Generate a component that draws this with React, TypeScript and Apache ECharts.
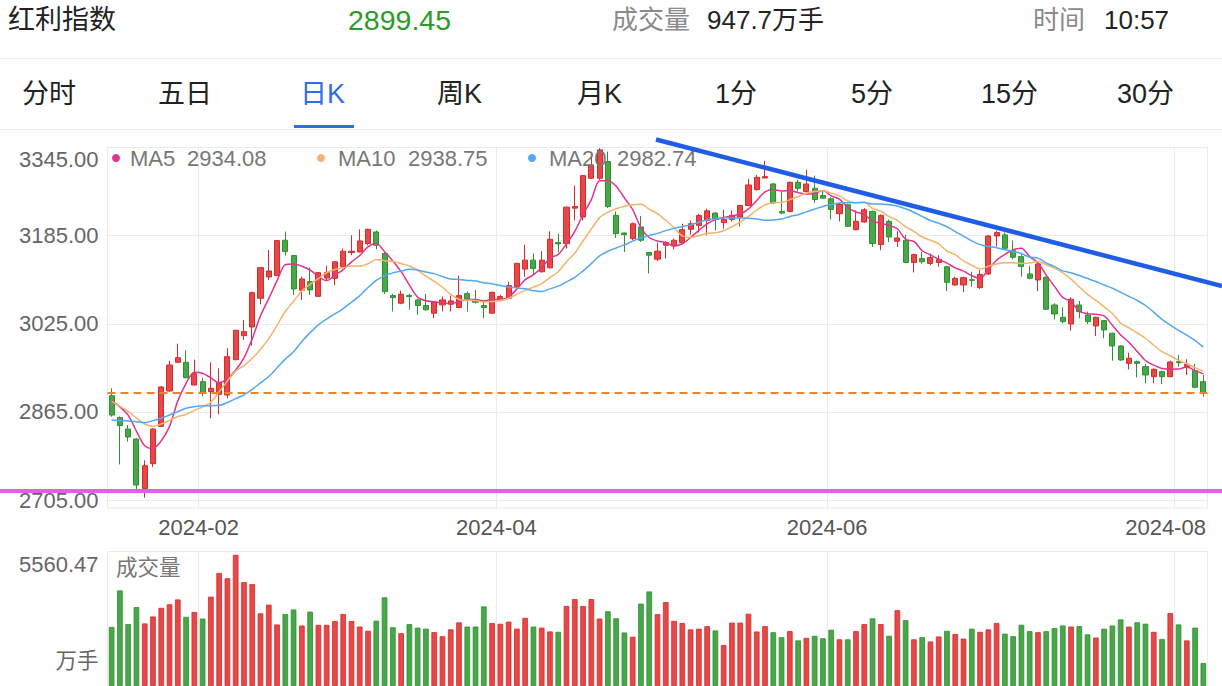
import React, { useEffect, useRef } from 'react';
import * as echarts from 'echarts';

const FONT = '"Liberation Sans", "Noto Sans CJK SC", sans-serif';

// ---------- data ----------
const monthDays: [string, number[]][] = [
  ['2024-01', [17, 18, 19, 22, 23, 24, 25, 26, 29, 30, 31]],
  ['2024-02', [1, 2, 5, 6, 7, 8, 19, 20, 21, 22, 23, 26, 27, 28, 29]],
  ['2024-03', [1, 4, 5, 6, 7, 8, 11, 12, 13, 14, 15, 18, 19, 20, 21, 22, 25, 26, 27, 28, 29]],
  ['2024-04', [1, 2, 3, 8, 9, 10, 11, 12, 15, 16, 17, 18, 19, 22, 23, 24, 25, 26, 29, 30]],
  ['2024-05', [6, 7, 8, 9, 10, 13, 14, 15, 16, 17, 20, 21, 22, 23, 24, 27, 28, 29, 30, 31]],
  ['2024-06', [3, 4, 5, 6, 7, 11, 12, 13, 14, 17, 18, 19, 20, 21, 24, 25, 26, 27, 28]],
  ['2024-07', [1, 2, 3, 4, 5, 8, 9, 10, 11, 12, 15, 16, 17, 18, 19, 22, 23, 24, 25, 26, 29, 30, 31]],
  ['2024-08', [1, 2, 5, 6]],
];
const dates: string[] = monthDays.flatMap(([m, ds]) => ds.map((d) => `${m}-${String(d).padStart(2, '0')}`));

const opens = [
  2894.4, 2854.5, 2833.9, 2815.7, 2726.1, 2770.9, 2838.7, 2902.9, 2955.0, 2955.0,
  2913.8, 2919.9, 2901.7, 2896.9, 2895.7, 2959.8, 3003.4, 3019.2, 3071.2, 3110.0,
  3112.4, 3176.6, 3148.7, 3085.8, 3101.5, 3074.8, 3108.0, 3107.4, 3128.5, 3154.3,
  3155.5, 3170.6, 3191.6, 3152.5, 3076.1, 3062.3, 3076.1, 3068.3, 3058.1, 3044.2,
  3059.3, 3060.5, 3054.5, 3079.7, 3066.5, 3058.1, 3044.2, 3068.3, 3071.3, 3092.4,
  3124.2, 3140.5, 3119.4, 3126.6, 3172.4, 3170.6, 3234.9, 3218.7, 3289.1, 3289.2,
  3319.4, 3221.7, 3189.8, 3179.6, 3200.6, 3154.3, 3142.3, 3167.6, 3166.3, 3172.4,
  3196.4, 3203.6, 3212.7, 3225.9, 3208.5, 3214.5, 3218.7, 3239.7, 3268.6, 3289.7,
  3278.8, 3229.0, 3228.9, 3281.8, 3265.0, 3271.0, 3257.8, 3251.8, 3224.7, 3240.9,
  3195.8, 3209.7, 3228.9, 3168.8, 3210.9, 3174.8, 3176.6, 3136.3, 3143.5, 3134.5,
  3136.3, 3128.5, 3095.4, 3095.4, 3105.0, 3090.6, 3115.4, 3184.4, 3186.3, 3157.8,
  3146.9, 3115.4, 3104.5, 3109.4, 3059.1, 3036.7, 3024.6, 3059.1, 3041.0, 3021.0,
  3030.7, 3007.7, 2984.7, 2953.2, 2956.2, 2947.1, 2929.0, 2938.1, 2929.0, 2956.2,
  2947.1, 2939.9, 2919.9,
];
const closes = [
  2859.3, 2840.0, 2819.4, 2732.2, 2767.3, 2833.9, 2910.2, 2950.1, 2963.5, 2927.1,
  2934.4, 2900.5, 2907.8, 2918.7, 2965.3, 3013.1, 3010.7, 3081.5, 3126.9, 3120.9,
  3176.0, 3156.0, 3088.2, 3106.3, 3086.4, 3117.8, 3118.0, 3137.5, 3156.7, 3156.7,
  3175.4, 3196.4, 3167.6, 3083.3, 3072.5, 3078.5, 3074.3, 3058.1, 3050.3, 3064.1,
  3068.3, 3066.5, 3076.1, 3070.1, 3064.1, 3054.5, 3082.1, 3074.3, 3094.2, 3134.5,
  3140.5, 3125.4, 3140.5, 3178.4, 3170.0, 3236.7, 3237.9, 3293.9, 3313.1, 3340.6,
  3237.7, 3188.6, 3186.8, 3206.6, 3176.6, 3149.5, 3156.7, 3172.4, 3176.6, 3195.8,
  3206.6, 3221.7, 3230.1, 3215.7, 3214.5, 3221.7, 3239.7, 3277.0, 3290.9, 3292.1,
  3244.5, 3226.0, 3281.8, 3271.0, 3278.8, 3250.6, 3253.0, 3232.5, 3241.5, 3201.8,
  3210.9, 3231.9, 3170.6, 3221.7, 3182.6, 3180.8, 3136.3, 3150.7, 3137.5, 3145.3,
  3141.7, 3100.2, 3107.4, 3108.6, 3103.8, 3114.6, 3184.4, 3190.5, 3162.1, 3145.7,
  3128.7, 3107.6, 3133.6, 3051.3, 3042.8, 3028.9, 3069.4, 3047.0, 3028.9, 3036.7,
  3013.7, 2984.7, 2959.2, 2962.3, 2953.2, 2932.0, 2942.3, 2929.0, 2955.6, 2954.4,
  2951.4, 2909.6, 2899.45,
];
const lows = [
  2856.3, 2769.7, 2810.9, 2723.1, 2709.2, 2764.9, 2837.5, 2901.7, 2954.4, 2925.9,
  2912.6, 2893.2, 2853.3, 2860.5, 2889.6, 2958.6, 2995.5, 2985.2, 3060.3, 3104.5,
  3111.8, 3148.7, 3077.3, 3068.2, 3077.3, 3074.2, 3104.0, 3095.4, 3127.3, 3149.5,
  3154.3, 3167.6, 3160.3, 3079.1, 3047.3, 3060.5, 3050.3, 3041.2, 3049.1, 3035.2,
  3047.3, 3047.3, 3053.3, 3047.3, 3061.7, 3035.2, 3043.0, 3065.3, 3070.1, 3091.2,
  3110.4, 3114.6, 3118.2, 3125.4, 3155.5, 3161.5, 3212.7, 3212.7, 3287.9, 3286.2,
  3235.3, 3180.8, 3155.5, 3176.6, 3173.6, 3116.4, 3138.7, 3143.5, 3160.3, 3171.2,
  3186.8, 3190.4, 3185.6, 3194.6, 3197.6, 3210.9, 3201.8, 3238.5, 3266.8, 3289.1,
  3242.7, 3224.0, 3227.7, 3265.0, 3263.8, 3244.5, 3251.8, 3214.5, 3210.9, 3200.6,
  3194.6, 3208.5, 3164.5, 3158.5, 3173.6, 3164.5, 3135.1, 3118.2, 3133.9, 3131.5,
  3128.5, 3084.5, 3094.2, 3082.1, 3092.4, 3088.2, 3113.6, 3165.1, 3160.2, 3142.1,
  3110.6, 3105.7, 3084.5, 3050.0, 3033.1, 3025.8, 3012.5, 3034.9, 3024.6, 3002.8,
  2998.6, 2958.0, 2958.0, 2942.3, 2927.8, 2916.9, 2916.9, 2915.6, 2927.8, 2947.1,
  2932.0, 2907.8, 2892.6,
];
const highs = [
  2907.8, 2857.0, 2841.2, 2817.0, 2777.0, 2835.0, 2911.4, 2957.4, 2988.9, 2976.8,
  2959.8, 2927.1, 2955.0, 2944.1, 2980.4, 3013.7, 3031.9, 3083.3, 3128.1, 3159.0,
  3177.2, 3192.3, 3149.9, 3110.6, 3126.9, 3119.0, 3130.5, 3138.7, 3161.5, 3185.6,
  3196.4, 3197.6, 3194.6, 3154.3, 3079.1, 3085.1, 3079.1, 3070.1, 3079.1, 3065.3,
  3074.3, 3076.1, 3112.2, 3083.3, 3086.3, 3068.3, 3083.3, 3077.3, 3101.4, 3135.7,
  3168.8, 3152.5, 3156.7, 3192.8, 3188.6, 3237.9, 3275.8, 3295.1, 3330.0, 3343.7,
  3337.5, 3228.9, 3190.4, 3208.5, 3220.5, 3155.5, 3172.4, 3174.8, 3179.6, 3206.6,
  3212.7, 3224.7, 3233.7, 3227.7, 3231.9, 3230.7, 3240.9, 3287.9, 3295.1, 3320.9,
  3280.6, 3265.0, 3283.0, 3286.6, 3304.7, 3293.9, 3266.8, 3254.8, 3244.5, 3242.7,
  3230.7, 3234.9, 3230.7, 3223.5, 3214.5, 3192.8, 3186.8, 3152.5, 3155.5, 3152.5,
  3149.5, 3130.3, 3110.4, 3110.4, 3119.4, 3122.4, 3186.3, 3194.1, 3190.5, 3176.0,
  3154.2, 3130.0, 3136.0, 3110.6, 3062.2, 3054.9, 3073.0, 3066.4, 3047.0, 3037.9,
  3031.9, 3008.9, 2985.9, 2972.6, 2958.0, 2952.0, 2944.1, 2939.9, 2958.0, 2968.3,
  2960.5, 2952.0, 2932.0,
];
const volumes = [
  2442, 3951, 2557, 3261, 2586, 2873, 3233, 3376, 3578, 2859,
  3060, 2787, 3693, 4670, 4454, 5418, 4296, 4210, 3003, 3362,
  2543, 2974, 3161, 2499, 3074, 2528, 2528, 2686, 2974, 2686,
  2456, 2284, 2701, 3664, 2428, 2183, 2557, 2413, 2370, 2226,
  2054, 2341, 2629, 2456, 2456, 3290, 2600, 2571, 2658, 2370,
  2816, 2456, 2413, 2255, 2241, 3304, 3592, 3304, 3592, 2787,
  3089, 2801, 2212, 2039, 3405, 3908, 2970, 3470, 2692, 2604,
  2340, 2369, 2472, 2296, 1694, 2619, 2619, 2986, 2252, 2472,
  2222, 2017, 2266, 1884, 1987, 2075, 1973, 2325, 1928, 1928,
  2266, 2560, 2795, 2560, 2075, 3133, 2722, 1928, 2017, 1840,
  2046, 2281, 2149, 1958, 2369, 2237, 2340, 2604, 2163, 2061,
  2531, 2266, 2222, 2266, 2398, 2501, 2457, 2472, 2134, 2002,
  2369, 2501, 2751, 2457, 2633, 2575, 2237, 1943, 3015, 2545,
  1884, 2413, 947.7,
];
// moving-average values before a full window of visible closes exists
const ma5Head = [2886, 2874, 2859, 2830];
const ma10Head = [2884, 2875, 2866, 2854, 2843, 2839, 2843, 2849.5, 2856.5];
const ma20Head = [
  2850.3, 2849.1, 2848.4, 2847.2, 2845.4, 2849.1, 2853.3, 2859.4, 2865.4, 2871.5,
  2874.5, 2876.3, 2876.3, 2876.9, 2882, 2889, 2896, 2906, 2917.6,
];
const priceTicks = [2705, 2865, 3025, 3185, 3345];
const volumeTicks = [0, 5560.47];
const lastPrice = 2899.45;
const maNames = ['MA5', 'MA10', 'MA20'];
const maLegendValues = ['2934.08', '2938.75', '2982.74'];
const headerTexts = ['红利指数', '2899.45', '成交量', '947.7万手', '时间', '10:57'];
const tabs = ['分时', '五日', '日K', '周K', '月K', '1分', '5分', '15分', '30分'];

// ---------- styling ----------
const UP = '#e54848';
const UP_B = '#d92a2a';
const DOWN = '#4aa64a';
const DOWN_B = '#2c922c';
const MA_COLORS = ['#e2348c', '#f3b46c', '#52a8f3'];
const GRID_LINE = '#ebebeb';

const sma = (n: number, head: number[]) =>
  closes.map((_, i) =>
    i < n - 1 ? head[i] : +(closes.slice(i - n + 1, i + 1).reduce((a, b) => a + b, 0) / n).toFixed(2)
  );

const isMark = (idx: number) => {
  if (idx === 0) return false;
  const m = dates[idx].slice(0, 7);
  const pm = dates[idx - 1].slice(0, 7);
  return m !== pm && parseInt(m.slice(5), 10) % 2 === 0;
};
const lastMarkIdx = dates.reduce((acc, _, i) => (isMark(i) ? i : acc), -1);

function buildOption() {
  const candleData = opens.map((o, i) => [o, closes[i], lows[i], highs[i]]);
  const volData = volumes.map((v, i) => {
    const up = closes[i] >= opens[i];
    return {
      value: v,
      itemStyle: { color: up ? UP : DOWN, borderColor: up ? UP_B : DOWN_B, borderWidth: 0.8 },
    };
  });
  const mas = [sma(5, ma5Head), sma(10, ma10Head), sma(20, ma20Head)];

  const txt = (text: string, x: number, y: number, fill: string, size: number, extra: any = {}) => ({
    type: 'text',
    x,
    y,
    z: 50,
    silent: true,
    style: { text, fill, fontSize: size, fontFamily: FONT, verticalAlign: 'middle', align: 'left', ...extra },
  });

  const headerX = [8, 348, 612, 707, 1033, 1104];
  const headerColors = ['#222', '#2e9a2a', '#8a8a8a', '#222', '#8a8a8a', '#222'];
  const headerSizes = [27, 28.5, 26, 26, 26, 26];
  const tabX = [22, 158, 300, 437, 577, 715, 851, 981, 1117];
  const legendDotX = [116, 321, 532];
  const legendNameX = [130, 338, 549];
  const legendValX = [187, 408, 617];

  const graphic: any[] = [
    ...headerTexts.map((t, i) => txt(t, headerX[i], 20, headerColors[i], headerSizes[i])),
    { type: 'line', silent: true, shape: { x1: 0, y1: 58.5, x2: 1222, y2: 58.5 }, style: { stroke: '#ececec', lineWidth: 1 } },
    ...tabs.map((t, i) => txt(t, tabX[i], 94, i === 2 ? '#2f6cec' : '#222', 27)),
    { type: 'rect', silent: true, shape: { x: 294, y: 125, width: 60, height: 3 }, style: { fill: '#2f6cec' } },
    { type: 'line', silent: true, shape: { x1: 0, y1: 129.5, x2: 1222, y2: 129.5 }, style: { stroke: '#ececec', lineWidth: 1 } },
    ...maNames.flatMap((n, i) => [
      { type: 'circle', silent: true, z: 50, shape: { cx: legendDotX[i], cy: 158, r: 4 }, style: { fill: MA_COLORS[i] } },
      txt(n, legendNameX[i], 158, '#777', 22),
      txt(maLegendValues[i], legendValX[i], 158, '#777', 22),
    ]),
    txt('成交量', 116, 568, '#777', 21.5),
    // user-drawn annotation lines
    { type: 'line', silent: true, z: 60, shape: { x1: 0, y1: 491, x2: 1222, y2: 491 }, style: { stroke: '#e65cf2', lineWidth: 4 } },
    { type: 'line', silent: true, z: 60, shape: { x1: 656, y1: 139.5, x2: 1222, y2: 286 }, style: { stroke: '#1f5de8', lineWidth: 4.5 } },
  ];

  const labelBase = { fontSize: 22, fontFamily: FONT, color: '#666' };

  return {
    animation: false,
    backgroundColor: '#ffffff',
    grid: [
      { left: 107.5, top: 147.5, width: 1100, height: 360.5, show: true, borderColor: GRID_LINE, borderWidth: 1 },
      { left: 107.5, top: 551.5, width: 1100, height: 138, show: true, borderColor: GRID_LINE, borderWidth: 1 },
    ],
    xAxis: [
      {
        type: 'category',
        gridIndex: 0,
        data: dates,
        boundaryGap: true,
        axisLine: { show: false },
        axisTick: { show: false },
        splitLine: { show: true, interval: (i: number) => isMark(i), lineStyle: { color: GRID_LINE, width: 1 } },
        axisLabel: {
          interval: (i: number) => isMark(i),
          margin: 8,
          formatter: (v: string, i: number) =>
            i === lastMarkIdx ? `{r|${v.slice(0, 7)}}` : `{n|${v.slice(0, 7)}}`,
          rich: {
            n: { ...labelBase, color: '#555', padding: [0, 8, 0, 0] },
            r: { ...labelBase, color: '#555', padding: [0, 26, 0, 0] },
          },
        },
      },
      {
        type: 'category',
        gridIndex: 1,
        data: dates,
        boundaryGap: true,
        axisLine: { show: false },
        axisTick: { show: false },
        axisLabel: { show: false },
        splitLine: { show: true, interval: (i: number) => isMark(i), lineStyle: { color: GRID_LINE, width: 1 } },
      },
    ],
    yAxis: [
      {
        type: 'value',
        gridIndex: 0,
        min: 2690.5,
        max: 3345,
        axisLine: { show: false },
        axisTick: { show: false, customValues: priceTicks },
        splitLine: { show: true, lineStyle: { color: GRID_LINE, width: 1 } },
        axisLabel: {
          customValues: priceTicks,
          margin: 9,
          formatter: (v: number) => (v === 3345 ? `{t|${v.toFixed(2)}}` : `{n|${v.toFixed(2)}}`),
          rich: {
            n: { ...labelBase },
            t: { ...labelBase, padding: [24, 0, 0, 0] },
          },
        },
      },
      {
        type: 'value',
        gridIndex: 1,
        min: 0,
        max: 5560.47,
        axisLine: { show: false },
        axisTick: { show: false, customValues: volumeTicks },
        splitLine: { show: true, lineStyle: { color: GRID_LINE, width: 1 } },
        axisLabel: {
          customValues: volumeTicks,
          margin: 9,
          formatter: (v: number) => (v === 0 ? '{b|万手}' : `{t|${v.toFixed(2)}}`),
          rich: {
            b: { ...labelBase, fontSize: 21.5, padding: [0, 0, 51, 0] },
            t: { ...labelBase, padding: [25, 0, 0, 0] },
          },
        },
      },
    ],
    series: [
      {
        type: 'candlestick',
        xAxisIndex: 0,
        yAxisIndex: 0,
        data: candleData,
        barWidth: 5.6,
        itemStyle: { color: UP, color0: DOWN, borderColor: UP_B, borderColor0: DOWN_B, borderWidth: 1 },
        markLine: {
          silent: true,
          symbol: ['none', 'none'],
          label: { show: false },
          lineStyle: { color: '#e9852b', type: [8, 5], width: 1.8 },
          data: [{ yAxis: lastPrice }],
        },
      },
      ...mas.map((d, i) => ({
        type: 'line',
        name: maNames[i],
        xAxisIndex: 0,
        yAxisIndex: 0,
        data: d,
        showSymbol: false,
        smooth: 0.3,
        silent: true,
        lineStyle: { color: MA_COLORS[i], width: 1.5 },
        z: 3,
      })),
      {
        type: 'bar',
        xAxisIndex: 1,
        yAxisIndex: 1,
        data: volData,
        barWidth: 5.6,
      },
    ],
    graphic,
  };
}

export default function App() {
  const ref = useRef<HTMLDivElement>(null);
  useEffect(() => {
    if (!ref.current) return;
    const chart = echarts.init(ref.current, undefined, { renderer: 'svg' });
    chart.setOption(buildOption() as any);
    return () => chart.dispose();
  }, []);
  return (
    <div
      ref={ref}
      style={{ position: 'fixed', left: 0, top: 0, width: 1222, height: 686, background: '#fff' }}
    />
  );
}
